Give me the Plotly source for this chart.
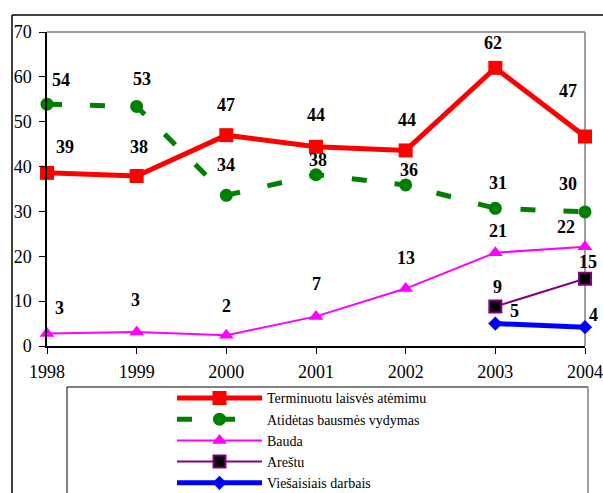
import plotly.graph_objects as go

# ---- data ----
years = [1998, 1999, 2000, 2001, 2002, 2003, 2004]
terminuotu = [38.6, 37.9, 47.0, 44.4, 43.6, 62.0, 46.7]
atidetas = [53.9, 53.4, 33.6, 38.2, 35.9, 30.7, 29.9]
bauda = [2.8, 3.1, 2.4, 6.6, 12.8, 20.8, 22.1]
arestu = [None, None, None, None, None, 8.8, 15.0]
viesieji = [None, None, None, None, None, 5.0, 4.2]
series_names = ["Terminuotu laisvės atėmimu", "Atidėtas bausmės vydymas", "Bauda",
                "Areštu", "Viešaisiais darbais"]
y_ticks = [0, 10, 20, 30, 40, 50, 60, 70]

# ---- styles ----
FONT = "Liberation Serif"
styles = [
    dict(color="#FF0000", width=5, dash="solid", symbol="square", size=14,
         mcolor="#FF0000", mline="#FF0000", mlw=0),
    dict(color="#008000", width=5, dash="15px,28px", symbol="circle", size=13,
         mcolor="#008000", mline="#008000", mlw=0),
    dict(color="#FF00FF", width=2, dash="solid", symbol="triangle-up", size=13,
         mcolor="#FF00FF", mline="#FF00FF", mlw=0),
    dict(color="#800080", width=2, dash="solid", symbol="square", size=12,
         mcolor="#000000", mline="#800080", mlw=2),
    dict(color="#0000FF", width=5, dash="solid", symbol="diamond", size=11,
         mcolor="#0000FF", mline="#0000FF", mlw=0),
]
# label offsets (px: right, up) per series / point
label_offsets = [
    [(18, 26), (2, 29), (0, 30), (0, 32), (1, 30), (-2, 25), (-17, 46)],
    [(14, 24), (5, 27), (0, 30), (2, 15), (3, 15), (3, 25), (-17, 28)],
    [(12, 25), (-1, 32), (0, 29), (0, 32), (0, 31), (3, 22), (-19, 20)],
    [None, None, None, None, None, (2, 20), (3, 17)],
    [None, None, None, None, None, (19, 13), (8, 12)],
]

all_series = [terminuotu, atidetas, bauda, arestu, viesieji]

fig = go.Figure()
for name, vals, st in zip(series_names, all_series, styles):
    xs = [x for x, v in zip(years, vals) if v is not None]
    ys = [v for v in vals if v is not None]
    fig.add_trace(go.Scatter(
        x=xs, y=ys, name=name, mode="lines+markers", cliponaxis=False,
        line=dict(color=st["color"], width=st["width"], dash=st["dash"]),
        marker=dict(symbol=st["symbol"], size=st["size"], color=st["mcolor"],
                    line=dict(color=st["mline"], width=st["mlw"])),
    ))

annotations = []
for vals, offs in zip(all_series, label_offsets):
    for x, v, off in zip(years, vals, offs):
        if v is None:
            continue
        annotations.append(dict(
            x=x, y=v, xref="x", yref="y", text=f"{v:.0f}", showarrow=False,
            xshift=off[0], yshift=off[1],
            font=dict(family=FONT, size=18, color="black", weight="bold"),
        ))

# page is 603x493 (body margin removed in post_script)
W, H = 603, 493
L, T = 47, 32
R = W - 585
B = H - 346
pw, ph = W - L - R, H - T - B


def px(xp):  # page px -> paper
    return (xp - L) / pw


def py(yp):  # page px -> paper
    return (H - B - yp) / ph


shapes = [
    # outer chart frame
    dict(type="line", xref="paper", yref="paper", x0=px(12), x1=px(640), y0=py(15), y1=py(15),
         line=dict(color="black", width=1.5)),
    dict(type="line", xref="paper", yref="paper", x0=px(12), x1=px(12), y0=py(15), y1=py(560),
         line=dict(color="black", width=1.5)),
    # plot area border (top, right)
    dict(type="line", xref="paper", yref="paper", x0=0, x1=1, y0=1, y1=1,
         line=dict(color="#808080", width=1.5), layer="below"),
    dict(type="line", xref="paper", yref="paper", x0=1, x1=1, y0=0, y1=1,
         line=dict(color="#808080", width=1.5), layer="below"),
    # legend box
    dict(type="line", xref="paper", yref="paper", x0=px(67), x1=px(588), y0=py(387), y1=py(387),
         line=dict(color="black", width=1)),
    dict(type="line", xref="paper", yref="paper", x0=px(67), x1=px(67), y0=py(387), y1=py(560),
         line=dict(color="black", width=1)),
    dict(type="line", xref="paper", yref="paper", x0=px(588), x1=px(588), y0=py(387), y1=py(560),
         line=dict(color="#808080", width=1.5)),
]

fig.update_layout(
    width=W, height=H,
    margin=dict(l=L, r=R, t=T, b=B, pad=0, autoexpand=False),
    paper_bgcolor="white", plot_bgcolor="white",
    font=dict(family=FONT, size=18, color="black"),
    showlegend=True,
    legend=dict(x=172 / W, y=1 - 382.4 / H, xref="container", yref="container",
                xanchor="left", yanchor="top",
                bgcolor="rgba(0,0,0,0)", borderwidth=0, itemwidth=85,
                font=dict(family=FONT, size=14, color="black"),
                tracegroupgap=0),
    annotations=annotations,
    shapes=shapes,
    xaxis=dict(range=[1998, 2004], tickmode="array", tickvals=years,
               ticktext=[str(y) for y in years], showgrid=False, zeroline=False,
               showline=True, linecolor="black", linewidth=1.5, automargin=False,
               ticks="outside", ticklen=6, tickwidth=1, tickcolor="black",
               ticklabelstandoff=3, tickfont=dict(family=FONT, size=18)),
    yaxis=dict(range=[0, 70], tickmode="array", tickvals=y_ticks, showgrid=False,
               zeroline=False, showline=True, linecolor="black", linewidth=1.5,
               automargin=False,
               ticks="outside", ticklen=6, tickwidth=1, tickcolor="black",
               ticklabelstandoff=4, tickfont=dict(family=FONT, size=18)),
)

fig.write_html("out.html", config={"displayModeBar": False},
               post_script="document.body.style.margin='0';")
